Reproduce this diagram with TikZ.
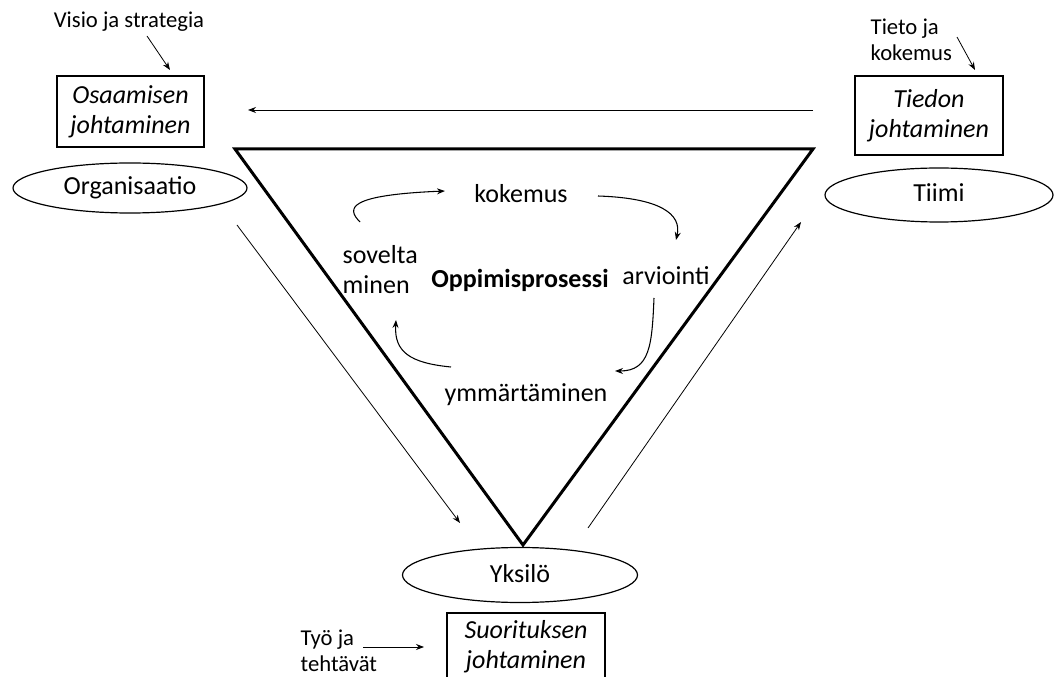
\documentclass[tikz,border=0pt]{standalone}
\usepackage{fontspec}
\setmainfont{Carlito}
\usetikzlibrary{shapes.geometric,arrows.meta}
\begin{document}
\begin{tikzpicture}[x=0.75pt,y=-0.75pt,
  bigtext/.style={font=\fontsize{19.5}{22.5}\selectfont},
  smalltext/.style={font=\fontsize{17}{19.5}\selectfont},
  mgmt/.style={draw,line width=1pt,inner sep=0pt,align=center,
    font=\fontsize{19.5}{22.5}\selectfont\itshape},
  level/.style={draw,ellipse,line width=0.9pt,inner sep=0pt,bigtext,
    text height=10.5pt,text depth=0pt},
  arr/.style={-{Stealth[length=6pt,width=4.5pt]},line width=0.6pt},
  cyc/.style={-{Stealth[length=6pt,width=4.5pt]},line width=0.8pt},
  frame/.style={line width=2.25pt,line join=miter}]
\useasboundingbox (0,0) rectangle (1054,677);

% management boxes
\node[mgmt,minimum width=110.25pt,minimum height=53.25pt] (oj) at (130.5,111.5) {Osaamisen\\johtaminen};
\node[mgmt,minimum width=111pt,minimum height=59.25pt] (tj) at (929,115.5) {Tiedon\\johtaminen};
\node[mgmt,minimum width=118.5pt,minimum height=51pt] (sj) at (526,647) {Suorituksen\\johtaminen};

% levels
\node[level,minimum width=175.5pt,minimum height=37.5pt] (org) at (130,188) {Organisaatio};
\node[level,minimum width=171pt,minimum height=40.5pt] (tiimi) at (939,195) {Tiimi};
\node[level,minimum width=176.25pt,minimum height=41.25pt] (yks) at (520,575) {Yksilö};

% input labels
\node[smalltext] (visio) at (129,22) {Visio ja strategia};
\node[smalltext,align=left,anchor=west] (tieto) at (866,40) {Tieto ja\\kokemus};
\node[smalltext,align=left,anchor=west] (tyo) at (296,651) {Työ ja\\tehtävät};

\coordinate (v1) at (147,36);  \coordinate (v2) at (170,70);
\coordinate (k1) at (957,37);  \coordinate (k2) at (975,70);
\coordinate (w1) at (363,647); \coordinate (w2) at (424,647);
\draw[arr] (v1) -- (v2);
\draw[arr] (k1) -- (k2);
\draw[arr] (w1) -- (w2);

% inverted triangle
\coordinate (tl) at (235,149);
\coordinate (tr) at (813,149);
\coordinate (tb) at (523,545);
\draw[frame] (tl) -- (tr) -- (tb) -- cycle;

% flows between levels
\coordinate (h1) at (813,110);  \coordinate (h2) at (248,110);
\coordinate (d1) at (237,225);  \coordinate (d2) at (460,523);
\coordinate (u1) at (588,528);  \coordinate (u2) at (801,222);
\draw[arr] (h1) -- (h2);
\draw[arr] (d1) -- (d2);
\draw[arr] (u1) -- (u2);

% learning cycle
\node[bigtext] (kok) at (521,194) {kokemus};
\node[bigtext] (arv) at (666,276) {arviointi};
\node[bigtext,font=\fontsize{19.5}{22.5}\selectfont\bfseries] (opp) at (520,280) {Oppimisprosessi};
\node[bigtext,align=left,anchor=west] (sov) at (338,270) {sovelta\\minen};
\node[bigtext] (ymm) at (526,395) {ymmärtäminen};

\coordinate (c1a) at (360,222); \coordinate (c1b) at (445,191);
\coordinate (c2a) at (598,196); \coordinate (c2b) at (676,240);
\coordinate (c3a) at (654,298); \coordinate (c3b) at (615,371);
\coordinate (c4a) at (451,367); \coordinate (c4b) at (396,320);
\draw[cyc] (c1a) .. controls (346,208) and (348,195) .. (c1b);
\draw[cyc] (c2a) .. controls (660,198) and (682,214) .. (c2b);
\draw[cyc] (c3a) .. controls (652,345) and (650,371) .. (c3b);
\draw[cyc] (c4a) .. controls (410,363) and (394,352) .. (c4b);
\end{tikzpicture}
\end{document}
